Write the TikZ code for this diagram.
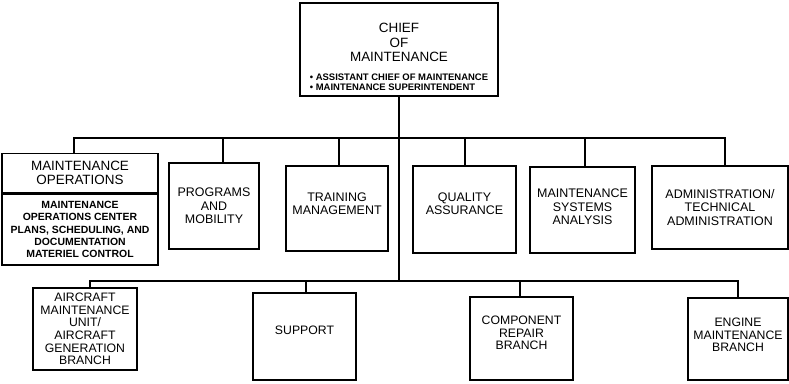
\documentclass[tikz,border=0pt]{standalone}
\usepackage{fontspec}
\setmainfont{Liberation Sans}
\begin{document}
\begin{tikzpicture}[x=1bp,y=-1bp,
  box/.style={draw, line width=1.4bp, inner sep=0pt, align=center,
    font=\fontsize{12.5}{13.5}\selectfont},
  btm/.style={box, font=\fontsize{12.3}{12.6}\selectfont},
  conn/.style={line width=1.4bp},
  txt/.style={inner sep=0pt, align=center}]
\useasboundingbox (0,0) rectangle (789,383);

% top
\node[box, minimum width=198bp, minimum height=93bp] (chief) at (399,49.5) {};
\node[txt, font=\fontsize{13.5}{14.5}\selectfont] (chieft) at (399,42.5) {CHIEF\\OF\\MAINTENANCE};
\node[txt, align=left, font=\fontsize{9.5}{10}\selectfont\bfseries] (chiefs) at (399,82.5)
  {\textbullet\ ASSISTANT CHIEF OF MAINTENANCE\\\textbullet\ MAINTENANCE SUPERINTENDENT};

% level 1
\node[box, minimum width=156bp, minimum height=39bp, anchor=north,
  font=\fontsize{13.5}{14}\selectfont] (moh) at (80,153) {MAINTENANCE\\OPERATIONS};
\node[box, minimum width=156bp, minimum height=71bp, anchor=north,
  font=\fontsize{10.5}{12.3}\selectfont\bfseries] (mob) at (moh.south)
  {MAINTENANCE\\OPERATIONS CENTER\\PLANS, SCHEDULING, AND\\DOCUMENTATION\\MATERIEL CONTROL};
\node[box, minimum width=90bp, minimum height=86bp] (prog) at (214,206) {PROGRAMS\\AND\\MOBILITY};
\node[box, minimum width=102bp, minimum height=85bp, text depth=10bp] (train) at (337,208.5) {TRAINING\\MANAGEMENT};
\node[box, minimum width=103bp, minimum height=87bp, text depth=12bp] (qa) at (464.5,209.5) {QUALITY\\ASSURANCE};
\node[box, minimum width=105bp, minimum height=86bp, text depth=6bp] (msa) at (582.5,210) {MAINTENANCE\\SYSTEMS\\ANALYSIS};
\node[box, minimum width=136bp, minimum height=83bp] (admin) at (720,207.5) {ADMINISTRATION/\\TECHNICAL\\ADMINISTRATION};

% level 2
\node[btm, minimum width=104bp, minimum height=82bp] (acft) at (85,329)
  {AIRCRAFT\\MAINTENANCE\\UNIT/\\AIRCRAFT\\GENERATION\\BRANCH};
\node[btm, minimum width=103bp, minimum height=87bp, text depth=13bp] (sup) at (304.5,336.5) {SUPPORT};
\node[btm, minimum width=103bp, minimum height=83bp, text depth=11bp] (comp) at (521.5,338.5) {COMPONENT\\REPAIR\\BRANCH};
\node[btm, minimum width=100bp, minimum height=82bp, text depth=8bp] (eng) at (738,339) {ENGINE\\MAINTENANCE\\BRANCH};

% connectors
\coordinate (b1) at (399,138);
\coordinate (b2) at (399,281);
\draw[conn] (chief.south) -- (b1) -- (b2);
\draw[conn] (b1) -| ([xshift=-6bp]moh.north);
\draw[conn] (b1) -| ([xshift=9bp]prog.north);
\draw[conn] (b1) -| ([xshift=2bp]train.north);
\draw[conn] (b1) -| ([xshift=0.5bp]qa.north);
\draw[conn] (b1) -| ([xshift=2.5bp]msa.north);
\draw[conn] (b1) -| ([xshift=5bp]admin.north);
\draw[conn] (b2) -| ([xshift=5bp]acft.north);
\draw[conn] (b2) -| ([xshift=1.5bp]sup.north);
\draw[conn] (b2) -| ([xshift=-1.5bp]comp.north);
\draw[conn] (b2) -| (eng.north);
\end{tikzpicture}
\end{document}
